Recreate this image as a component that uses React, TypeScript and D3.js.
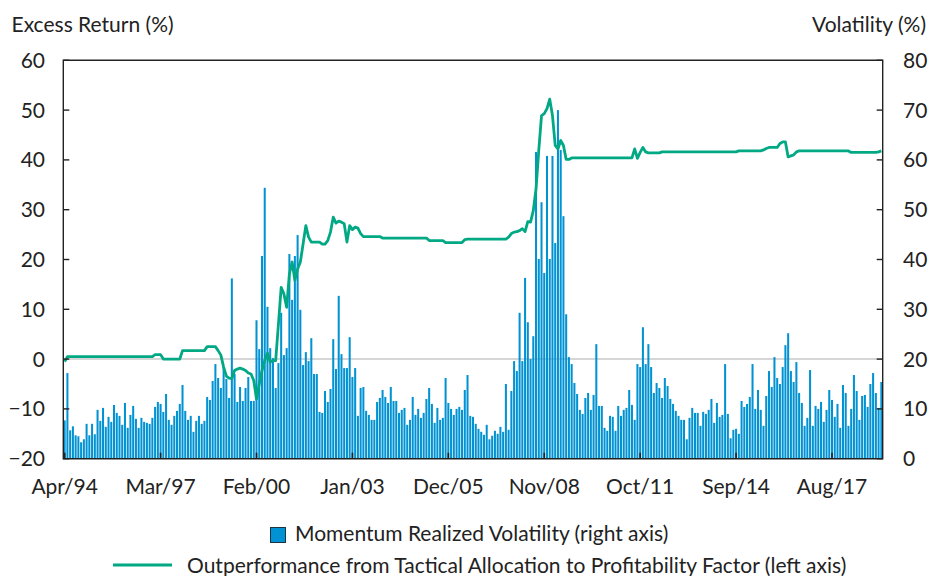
import * as d3 from "d3";
import React from "react";

// monthly series, Apr/94 .. Feb/19
const startMonth = new Date(1994, 3, 1);
const endMonth = new Date(2019, 2, 1);

const tickLabels = ["Apr/94", "Mar/97", "Feb/00", "Jan/03", "Dec/05", "Nov/08", "Oct/11", "Sep/14", "Aug/17"];
const leftTicks = [-20, -10, 0, 10, 20, 30, 40, 50, 60];
const rightTicks = [0, 10, 20, 30, 40, 50, 60, 70, 80];

// Momentum realized volatility (right axis, %)
const volatility = [
  7.7, 17.2, 5.7, 6.5, 4.7, 4.5, 3.3, 3.9, 7.0, 4.7,
  7.0, 4.9, 9.8, 7.6, 10.2, 6.4, 8.4, 7.4, 10.8, 9.2,
  8.6, 6.8, 11.2, 6.2, 8.8, 10.6, 8.0, 6.2, 8.2, 7.4,
  7.2, 7.0, 8.2, 10.4, 11.4, 11.0, 9.4, 13.0, 7.8, 6.8,
  8.6, 9.6, 11.0, 14.8, 9.6, 7.8, 8.6, 5.4, 7.6, 8.6,
  7.0, 7.6, 12.4, 11.8, 15.6, 19.0, 16.2, 14.2, 18.5, 16.0,
  12.2, 36.2, 17.0, 11.4, 14.4, 11.6, 14.2, 16.4, 11.6, 11.6,
  27.8, 22.0, 40.7, 54.4, 30.5, 22.2, 20.2, 14.2, 19.2, 29.3,
  20.8, 22.2, 41.1, 31.9, 40.7, 44.9, 29.9, 18.8, 21.4, 19.6,
  24.2, 17.0, 17.0, 9.4, 9.2, 13.6, 11.4, 14.0, 24.0, 18.0,
  32.7, 21.0, 18.2, 18.2, 24.4, 16.4, 18.2, 8.6, 14.2, 14.4,
  9.6, 8.8, 7.8, 7.8, 11.4, 12.2, 13.8, 12.4, 11.2, 14.4,
  11.6, 11.6, 9.2, 9.8, 10.2, 6.8, 7.8, 12.4, 8.8, 10.0,
  8.2, 9.2, 12.0, 14.2, 11.0, 7.2, 10.2, 7.8, 8.2, 16.2,
  11.2, 10.0, 8.8, 10.0, 10.4, 9.8, 13.8, 16.8, 8.6, 8.4,
  7.0, 6.0, 5.4, 4.8, 6.8, 3.9, 4.6, 5.6, 5.0, 6.4,
  5.4, 15.0, 5.8, 13.6, 19.6, 17.6, 29.3, 19.6, 36.3, 27.4,
  20.0, 24.6, 61.6, 40.1, 51.5, 37.3, 60.8, 40.1, 60.8, 43.3,
  70.0, 62.0, 48.7, 29.0, 20.4, 19.0, 15.2, 13.0, 9.8, 9.0,
  12.2, 13.2, 9.8, 12.8, 23.0, 10.6, 10.6, 6.2, 5.6, 8.6,
  8.4, 5.6, 10.6, 8.6, 9.8, 10.2, 13.8, 10.8, 7.8, 19.0,
  18.4, 26.4, 19.0, 23.0, 18.4, 13.2, 15.2, 14.2, 12.2, 16.2,
  14.6, 12.0, 11.0, 9.6, 8.6, 7.8, 7.8, 3.9, 8.2, 10.2,
  9.2, 9.2, 6.6, 9.4, 9.0, 9.8, 12.0, 7.2, 11.2, 8.4,
  8.8, 19.0, 9.0, 4.1, 5.8, 6.0, 5.0, 11.6, 10.4, 11.0,
  12.4, 19.0, 10.0, 13.8, 9.8, 6.6, 12.6, 17.6, 14.4, 20.4,
  16.2, 15.0, 18.4, 22.8, 25.2, 17.6, 15.4, 19.4, 13.2, 11.2,
  6.6, 8.2, 17.8, 6.6, 10.6, 10.0, 11.4, 7.4, 9.8, 13.8,
  11.8, 8.4, 11.0, 6.2, 14.8, 13.2, 6.6, 10.0, 16.8, 13.6,
  7.8, 12.6, 12.8, 10.4, 15.0, 17.2, 13.2, 10.2, 15.4,
];

// Outperformance from tactical allocation (left axis, %)
const outperformance = [
  -0.5, 0.5, 0.5, 0.5, 0.5, 0.5, 0.5, 0.5, 0.5, 0.5,
  0.5, 0.5, 0.5, 0.5, 0.5, 0.5, 0.5, 0.5, 0.5, 0.5,
  0.5, 0.5, 0.5, 0.5, 0.5, 0.5, 0.5, 0.5, 0.5, 0.5,
  0.5, 0.5, 0.5, 0.9, 0.9, 0.9, 0.0, 0.0, 0.0, 0.0,
  0.0, 0.0, 0.0, 1.7, 1.7, 1.7, 1.7, 1.7, 1.7, 1.7,
  1.7, 1.7, 2.5, 2.5, 2.5, 2.5, 1.7, 0.8, -1.6, -3.4,
  -3.8, -3.9, -2.3, -2.0, -1.8, -2.0, -2.3, -2.8, -3.0, -4.3,
  -8.0, -5.0, -2.3, -0.3, 1.2, -0.6, -0.3, -0.3, 7.0, 14.4,
  13.1, 10.4, 17.1, 19.5, 15.8, 18.1, 19.5, 23.1, 26.8, 24.5,
  23.5, 23.5, 23.5, 23.5, 23.1, 23.1, 23.8, 25.5, 28.5, 27.3,
  27.7, 27.5, 27.2, 23.5, 26.8, 26.0, 26.5, 26.3, 25.2, 24.6,
  24.6, 24.6, 24.6, 24.6, 24.6, 24.6, 24.3, 24.3, 24.3, 24.3,
  24.3, 24.3, 24.3, 24.3, 24.3, 24.3, 24.3, 24.3, 24.3, 24.3,
  24.3, 24.3, 24.3, 23.8, 23.8, 23.8, 23.8, 23.8, 23.8, 23.4,
  23.4, 23.4, 23.4, 23.4, 23.4, 23.4, 24.0, 24.1, 24.1, 24.1,
  24.1, 24.1, 24.1, 24.1, 24.1, 24.1, 24.1, 24.1, 24.1, 24.1,
  24.1, 24.1, 24.5, 25.2, 25.5, 25.6, 25.8, 26.2, 25.6, 27.6,
  27.5, 29.8, 34.2, 41.9, 48.9, 49.3, 50.3, 52.2, 48.9, 42.9,
  42.2, 43.9, 42.9, 40.1, 40.1, 40.4, 40.4, 40.4, 40.4, 40.4,
  40.4, 40.4, 40.4, 40.4, 40.4, 40.4, 40.4, 40.4, 40.4, 40.4,
  40.4, 40.4, 40.4, 40.4, 40.4, 40.4, 40.4, 40.4, 42.2, 40.3,
  41.5, 42.5, 41.6, 41.4, 41.4, 41.4, 41.4, 41.4, 41.6, 41.6,
  41.6, 41.6, 41.6, 41.6, 41.6, 41.6, 41.6, 41.6, 41.6, 41.6,
  41.6, 41.6, 41.6, 41.6, 41.6, 41.6, 41.6, 41.6, 41.6, 41.6,
  41.6, 41.6, 41.6, 41.6, 41.6, 41.6, 41.8, 41.8, 41.8, 41.8,
  41.8, 41.8, 41.8, 41.8, 41.8, 42.0, 42.3, 42.5, 42.5, 42.5,
  42.5, 43.3, 43.6, 43.6, 40.6, 40.8, 41.0, 41.6, 41.8, 41.8,
  41.8, 41.8, 41.8, 41.8, 41.8, 41.8, 41.8, 41.8, 41.8, 41.8,
  41.8, 41.8, 41.8, 41.8, 41.8, 41.8, 41.8, 41.5, 41.5, 41.5,
  41.5, 41.5, 41.5, 41.5, 41.5, 41.5, 41.5, 41.6, 41.8,
];

const BAR = "#0092d2";
const LINE = "#00a884";
const INK = "#222";
const FONT = "Lato, 'Open Sans', sans-serif";
const FS = 21;

const App = () => {
  const W = 930;
  const H = 576;
  const L = 63.3, R = 882.7, T = 60.3, B = 458.7;

  const fmt = d3.timeFormat("%b/%y");
  const months = d3.timeMonth.range(startMonth, endMonth).map((d) => fmt(d));

  const x = d3.scaleBand().domain(months).range([L, R]).paddingInner(0.26).paddingOuter(0.13);
  const yLeft = d3.scaleLinear().domain([-20, 60]).range([B, T]);
  const yRight = d3.scaleLinear().domain([0, 80]).range([B, T]);
  const cx = (m) => x(m) + x.bandwidth() / 2;

  const line = d3
    .line()
    .x((d, i) => cx(months[i]))
    .y((d) => yLeft(d));

  const tick = 6;

  return (
    <svg
      width={W}
      height={H}
      style={{ position: "absolute", left: 0, top: 0, fontFamily: FONT }}
    >
      <rect width={W} height={H} fill="#fff" />

      {/* zero line */}
      <line x1={L} x2={R} y1={yLeft(0)} y2={yLeft(0)} stroke="#c8c8c8" strokeWidth={1.5} />

      {/* bars */}
      {volatility.map((v, i) => (
        <rect
          key={i}
          x={x(months[i])}
          y={yRight(v)}
          width={x.bandwidth()}
          height={yRight(0) - yRight(v)}
          fill={BAR}
        />
      ))}

      <path d={line(outperformance)} fill="none" stroke={LINE} strokeWidth={2.8} strokeLinejoin="round" />

      {/* frame */}
      <path d={`M${L},${B}V${T}H${R}V${B}Z`} fill="none" stroke={INK} strokeWidth={1.4} />

      {/* left axis */}
      {leftTicks.map((t) => (
        <g key={"l" + t}>
          <line x1={L} x2={L + tick} y1={yLeft(t)} y2={yLeft(t)} stroke={INK} strokeWidth={1.4} />
          <text x={45} y={yLeft(t)} dy="0.36em" textAnchor="end" fontSize={FS} fill={INK}>
            {d3.format("")(t)}
          </text>
        </g>
      ))}

      {/* right axis */}
      {rightTicks.map((t) => (
        <g key={"r" + t}>
          <line x1={R - tick} x2={R} y1={yRight(t)} y2={yRight(t)} stroke={INK} strokeWidth={1.4} />
          <text x={903} y={yRight(t)} dy="0.36em" textAnchor="start" fontSize={FS} fill={INK}>
            {t}
          </text>
        </g>
      ))}

      {/* bottom axis */}
      {tickLabels.map((lab) => (
        <g key={lab}>
          <line x1={cx(lab)} x2={cx(lab)} y1={B} y2={B - tick} stroke={INK} strokeWidth={1.6} />
          <text x={cx(lab)} y={494} textAnchor="middle" fontSize={FS} fill={INK}>
            {lab}
          </text>
        </g>
      ))}

      {/* axis titles */}
      <text x={11.5} y={31.5} fontSize={FS} fill={INK}>Excess Return (%)</text>
      <text x={926} y={31.5} textAnchor="end" fontSize={FS} fill={INK}>Volatility (%)</text>

      {/* legend */}
      <rect x={270.5} y={527.5} width={15} height={15} fill={BAR} stroke="#1c3444" strokeWidth={1} />
      <text x={295} y={540.5} fontSize={FS} fill={INK}>Momentum Realized Volatility (right axis)</text>
      <line x1={113} x2={172} y1={565} y2={565} stroke={LINE} strokeWidth={2.8} />
      <text x={187} y={572.5} fontSize={FS} fill={INK}>
        Outperformance from Tactical Allocation to Profitability Factor (left axis)
      </text>
    </svg>
  );
};

export default App;
